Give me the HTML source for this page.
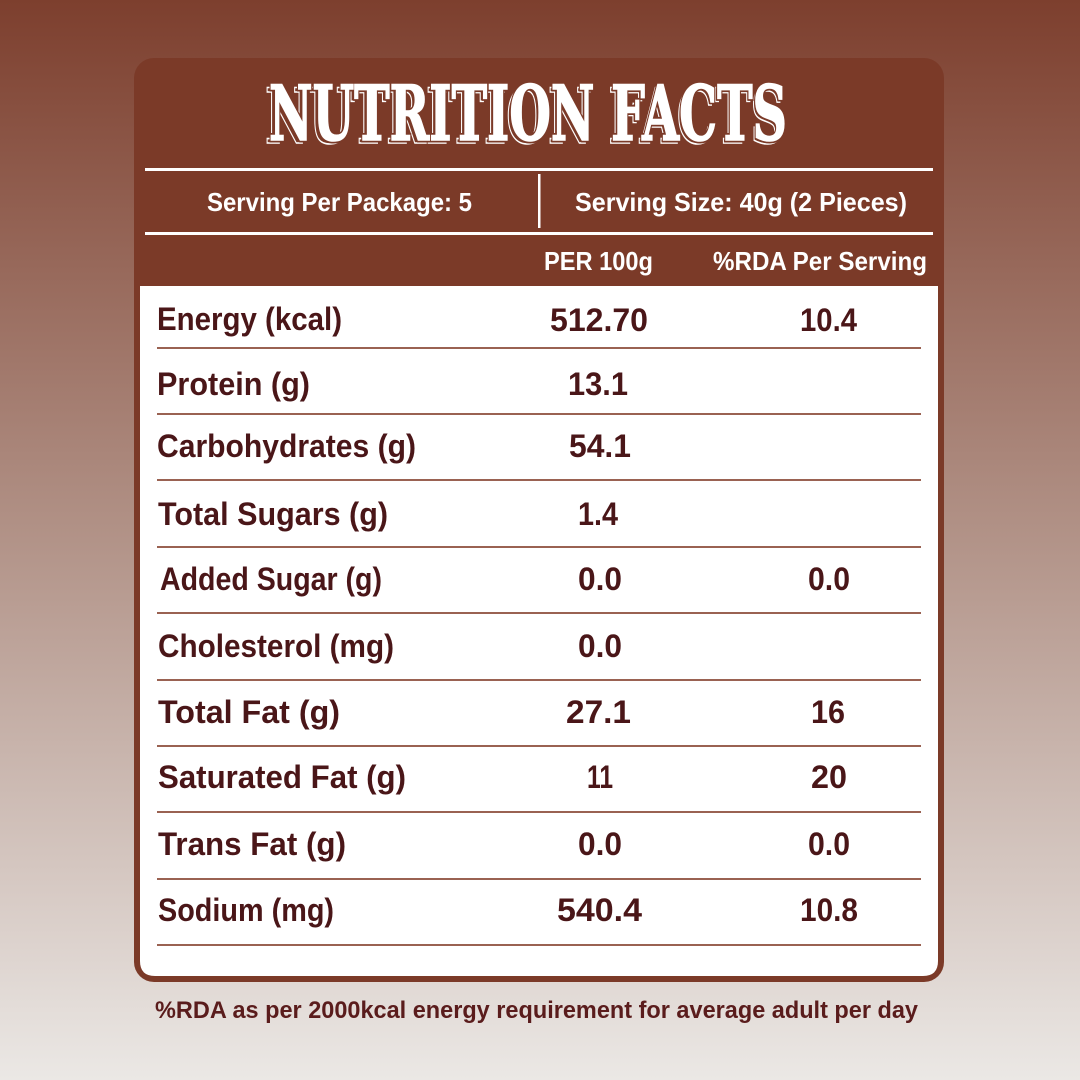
<!DOCTYPE html>
<html><head><meta charset="utf-8"><style>
html,body{margin:0;padding:0;width:1080px;height:1080px;overflow:hidden}
svg{display:block}
</style></head><body>
<svg width="1080" height="1080" viewBox="0 0 1080 1080" xmlns="http://www.w3.org/2000/svg">
<defs>
<linearGradient id="bg" x1="0" y1="0" x2="0" y2="1">
<stop offset="0" stop-color="#7d3f2e"/>
<stop offset="0.5" stop-color="#b29388"/>
<stop offset="1" stop-color="#ebe8e5"/>
</linearGradient>
</defs>
<rect width="1080" height="1080" fill="url(#bg)"/>
<rect x="134" y="58" width="810" height="924" rx="20" fill="#7b3a28"/>
<path d="M140 286 H938 V961 Q938 976 923 976 H155 Q140 976 140 961 Z" fill="#ffffff"/>

<!-- Title -->
<g font-family="DejaVu Serif, Liberation Serif, serif" font-weight="bold" font-size="76">
<text x="265" y="143" textLength="520" lengthAdjust="spacingAndGlyphs" fill="#7b3a28" stroke="#ffffff" stroke-width="1.6">NUTRITION FACTS</text>
<text x="269" y="140" textLength="518" lengthAdjust="spacingAndGlyphs" fill="#7b3a28" stroke="#7b3a28" stroke-width="5">NUTRITION FACTS</text>
<text x="269" y="140" textLength="518" lengthAdjust="spacingAndGlyphs" fill="#ffffff" stroke="#ffffff" stroke-width="1.6">NUTRITION FACTS</text>
</g>

<!-- header lines -->
<rect x="145" y="168" width="788" height="3" fill="#ffffff"/>
<rect x="145" y="232" width="788" height="3" fill="#ffffff"/>
<rect x="538" y="174" width="2.5" height="54" fill="#ffffff"/>

<g font-family="Liberation Sans, sans-serif" font-weight="bold" font-size="26" fill="#ffffff">
<text x="207" y="211" textLength="265" lengthAdjust="spacingAndGlyphs">Serving Per Package: 5</text>
<text x="575" y="211" textLength="332" lengthAdjust="spacingAndGlyphs">Serving Size: 40g (2 Pieces)</text>
<text x="544" y="270" textLength="109" lengthAdjust="spacingAndGlyphs">PER 100g</text>
<text x="713" y="270" textLength="214" lengthAdjust="spacingAndGlyphs">%RDA Per Serving</text>
</g>

<!-- row lines -->
<g fill="#9a6252">
<rect x="157" y="347" width="764" height="2"/>
<rect x="157" y="413" width="764" height="2"/>
<rect x="157" y="479" width="764" height="2"/>
<rect x="157" y="546" width="764" height="2"/>
<rect x="157" y="612" width="764" height="2"/>
<rect x="157" y="679" width="764" height="2"/>
<rect x="157" y="745" width="764" height="2"/>
<rect x="157" y="811" width="764" height="2"/>
<rect x="157" y="878" width="764" height="2"/>
<rect x="157" y="944" width="764" height="2"/>
</g>

<g font-family="Liberation Sans, sans-serif" font-weight="bold" font-size="32" fill="#4a1618">
<text x="157" y="330" textLength="185" lengthAdjust="spacingAndGlyphs">Energy (kcal)</text>
<text x="157" y="395" textLength="153" lengthAdjust="spacingAndGlyphs">Protein (g)</text>
<text x="157" y="457" textLength="259" lengthAdjust="spacingAndGlyphs">Carbohydrates (g)</text>
<text x="158" y="525" textLength="230" lengthAdjust="spacingAndGlyphs">Total Sugars (g)</text>
<text x="160" y="590" textLength="222" lengthAdjust="spacingAndGlyphs">Added Sugar (g)</text>
<text x="158" y="657" textLength="236" lengthAdjust="spacingAndGlyphs">Cholesterol (mg)</text>
<text x="158" y="723" textLength="182" lengthAdjust="spacingAndGlyphs">Total Fat (g)</text>
<text x="158" y="788" textLength="248" lengthAdjust="spacingAndGlyphs">Saturated Fat (g)</text>
<text x="158" y="855" textLength="188" lengthAdjust="spacingAndGlyphs">Trans Fat (g)</text>
<text x="158" y="921" textLength="176" lengthAdjust="spacingAndGlyphs">Sodium (mg)</text>

<text x="550" y="331" textLength="98" lengthAdjust="spacingAndGlyphs">512.70</text>
<text x="568" y="395" textLength="60" lengthAdjust="spacingAndGlyphs">13.1</text>
<text x="569" y="457" textLength="62" lengthAdjust="spacingAndGlyphs">54.1</text>
<text x="578" y="525" textLength="40" lengthAdjust="spacingAndGlyphs">1.4</text>
<text x="578" y="590" textLength="44" lengthAdjust="spacingAndGlyphs">0.0</text>
<text x="578" y="657" textLength="44" lengthAdjust="spacingAndGlyphs">0.0</text>
<text x="566" y="723" textLength="65" lengthAdjust="spacingAndGlyphs">27.1</text>
<text x="587" y="788" textLength="26" lengthAdjust="spacingAndGlyphs">11</text>
<text x="578" y="855" textLength="44" lengthAdjust="spacingAndGlyphs">0.0</text>
<text x="557" y="921" textLength="85" lengthAdjust="spacingAndGlyphs">540.4</text>

<text x="800" y="331" textLength="57" lengthAdjust="spacingAndGlyphs">10.4</text>
<text x="808" y="590" textLength="42" lengthAdjust="spacingAndGlyphs">0.0</text>
<text x="811" y="723" textLength="34" lengthAdjust="spacingAndGlyphs">16</text>
<text x="811" y="788" textLength="36" lengthAdjust="spacingAndGlyphs">20</text>
<text x="808" y="855" textLength="42" lengthAdjust="spacingAndGlyphs">0.0</text>
<text x="800" y="921" textLength="58" lengthAdjust="spacingAndGlyphs">10.8</text>
</g>

<text x="155" y="1018" font-family="Liberation Sans, sans-serif" font-weight="bold" font-size="24" fill="#5a1c1c" textLength="763" lengthAdjust="spacingAndGlyphs">%RDA as per 2000kcal energy requirement for average adult per day</text>
</svg>
</body></html>
